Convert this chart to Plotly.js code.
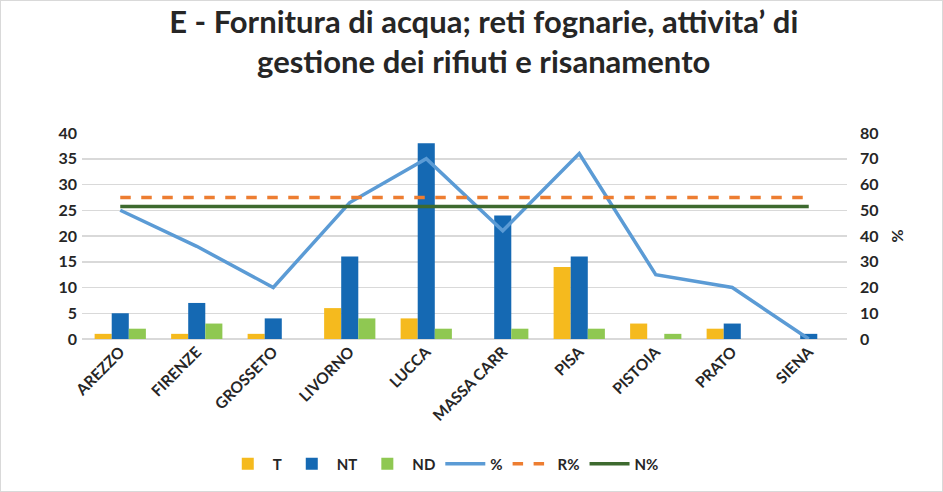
<!DOCTYPE html>
<html><head><meta charset="utf-8">
<script src="https://cdn.plot.ly/plotly-3.0.1.min.js"></script>
<style>
html,body{margin:0;padding:0;background:#fff;}
#chart{width:943px;height:492px;box-sizing:border-box;border:1px solid #d9d9d9;}
</style></head>
<body><div id="chart"></div>
<script>
const categories = ["AREZZO","FIRENZE","GROSSETO","LIVORNO","LUCCA","MASSA CARR","PISA","PISTOIA","PRATO","SIENA"];
const T  = [1,1,1,6,4,0,14,3,2,0];
const NT = [5,7,4,16,38,24,16,0,3,1];
const ND = [2,3,0,4,2,2,2,1,0,0];
const pct = [50,36,20,53,70,42,72,25,20,0];
const Rpct = [55,55,55,55,55,55,55,55,55,55];
const Npct = [51.5,51.5,51.5,51.5,51.5,51.5,51.5,51.5,51.5,51.5];
const leftTicks = [0,5,10,15,20,25,30,35,40];
const rightTicks = [0,10,20,30,40,50,60,70,80];

const fontFam = "Lato, 'Open Sans', sans-serif";
const traces = [
  {type:'bar', name:'T', x:categories, y:T, marker:{color:'#F5BA1E'}},
  {type:'bar', name:'NT', x:categories, y:NT, marker:{color:'#1569B3'}},
  {type:'bar', name:'ND', x:categories, y:ND, marker:{color:'#8FC852'}},
  {type:'scatter', mode:'lines', name:'%', x:categories, y:pct, yaxis:'y2', line:{color:'#5B9BD5', width:3.5}},
  {type:'scatter', mode:'lines', name:'R%', x:categories, y:Rpct, yaxis:'y2', line:{color:'#ED7D31', width:3.5, dash:'dash'}},
  {type:'scatter', mode:'lines', name:'N%', x:categories, y:Npct, yaxis:'y2', line:{color:'#3D6A2F', width:3.5}}
];
const layout = {
  width:941, height:490,
  margin:{l:81, r:95, t:132, b:152},
  paper_bgcolor:'#fff', plot_bgcolor:'#fff',
  font:{family:fontFam, color:'#262626', size:14},
  title:{text:"E - Fornitura di acqua; reti fognarie, attivita’ di<br>gestione dei rifiuti e risanamento",
         font:{family:fontFam, size:31, color:'#262626', weight:'bold'},
         x:0.513, xref:'container', xanchor:'center', y:0.935, yanchor:'top'},
  barmode:'group', bargap:0.33, bargroupgap:0,
  xaxis:{tickangle:-45, tickfont:{size:15.5, weight:'bold'}, showgrid:false, showline:false, ticks:'', automargin:false},
  yaxis:{range:[0,40], tickvals:leftTicks, gridcolor:'#d9d9d9', gridwidth:1.5, zeroline:true, zerolinecolor:'#d9d9d9', zerolinewidth:1.5,
         tickfont:{size:16, weight:'bold'}, ticks:'', ticklabelstandoff:4, automargin:false},
  yaxis2:{range:[0,80], tickvals:rightTicks, overlaying:'y', side:'right', showgrid:false, zeroline:false,
          tickfont:{size:16, weight:'bold'}, ticks:'', ticklabelstandoff:12, automargin:false,
          title:{text:'%', font:{size:16, weight:'bold'}, standoff:14}},
  showlegend:true,
  legend:{orientation:'h', x:0.47, xref:'container', xanchor:'center', y:0.055, yref:'container', yanchor:'middle',
          font:{size:15, weight:'bold'}, itemwidth:40, traceorder:'normal'}
};
Plotly.newPlot('chart', traces, layout, {displayModeBar:false, staticPlot:true});
</script></body></html>
